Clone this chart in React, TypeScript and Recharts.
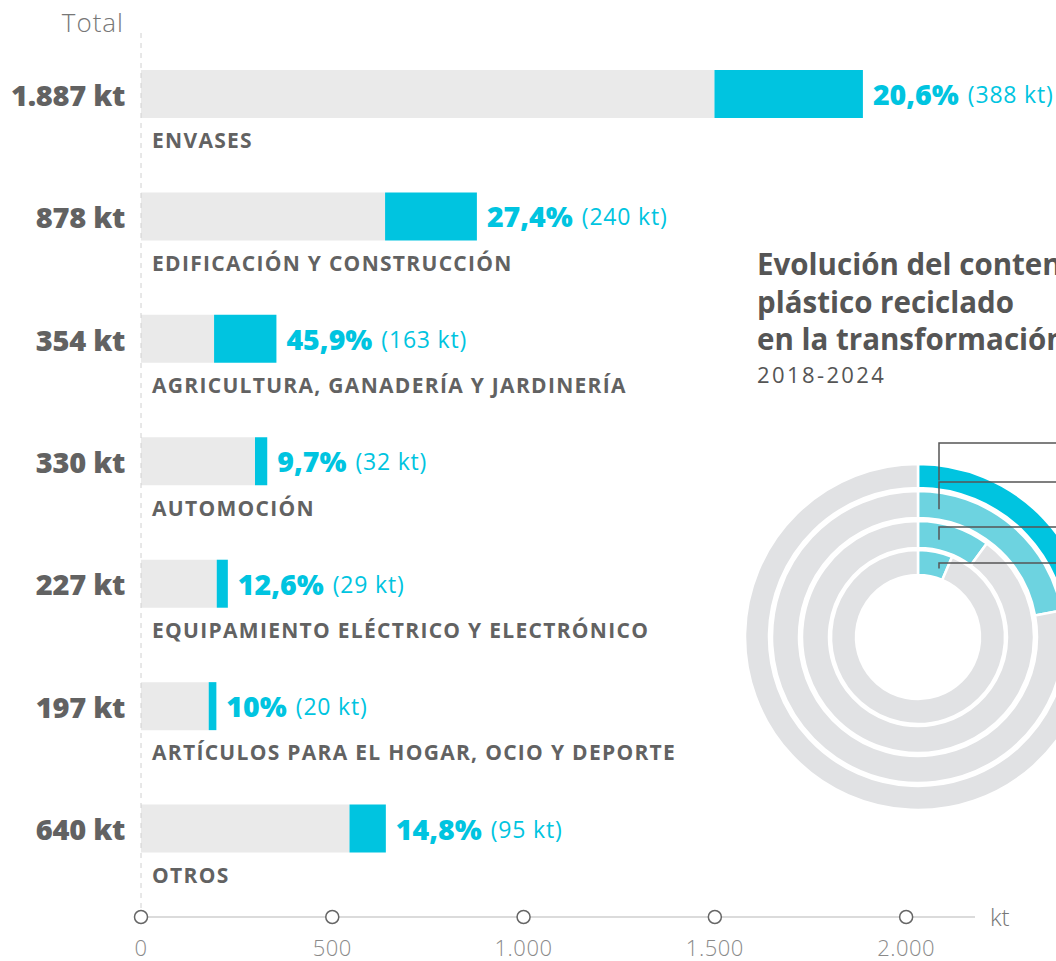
import { Bar, BarChart, Cell, LabelList, Pie, PieChart, XAxis, YAxis } from "recharts";

const categories = [
  "ENVASES",
  "EDIFICACIÓN Y CONSTRUCCIÓN",
  "AGRICULTURA, GANADERÍA Y JARDINERÍA",
  "AUTOMOCIÓN",
  "EQUIPAMIENTO ELÉCTRICO Y ELECTRÓNICO",
  "ARTÍCULOS PARA EL HOGAR, OCIO Y DEPORTE",
  "OTROS",
];
const totals = [1887, 878, 354, 330, 227, 197, 640];
const recycled = [388, 240, 163, 32, 29, 20, 95];
const totalLabels = ["1.887 kt", "878 kt", "354 kt", "330 kt", "227 kt", "197 kt", "640 kt"];
const shareLabels = ["20,6%", "27,4%", "45,9%", "9,7%", "12,6%", "10%", "14,8%"];
const recycledLabels = ["(388 kt)", "(240 kt)", "(163 kt)", "(32 kt)", "(29 kt)", "(20 kt)", "(95 kt)"];

const xTicks = [0, 500, 1000, 1500, 2000];
const xTickLabels = ["0", "500", "1.000", "1.500", "2.000"];

// evolution rings, outer to inner (% recycled content)
const ringShares = [26, 22.1, 10.1, 6.4];
const ringRadii = [
  [149, 173],
  [119, 146],
  [89, 116],
  [62, 87],
];
const ringColors = ["#00C4E0", "#6DD3E0", "#6DD3E0", "#6DD3E0"];
const leaderY = [443, 482, 527, 563];

const FONT = "'Open Sans', sans-serif";
const GREY_TEXT = "#626262";
const CYAN = "#00C4E0";

const rows = categories.map((name, i) => ({
  name,
  rest: totals[i] - recycled[i],
  recycled: recycled[i],
}));

function CategoryTick(props: any) {
  const { x, y, payload } = props;
  const i = payload.index ?? categories.indexOf(payload.value);
  return (
    <g>
      <text
        x={x - 16}
        y={y}
        textAnchor="end"
        dominantBaseline="central"
        fontFamily={FONT}
        fontWeight={800}
        fontSize={29}
        fill={GREY_TEXT}
        letterSpacing={-0.3}
      >
        {totalLabels[i]}
      </text>
      <text
        x={x + 11}
        y={y + 46}
        dominantBaseline="central"
        fontFamily={FONT}
        fontWeight={700}
        fontSize={21}
        fill={GREY_TEXT}
        letterSpacing={1.3}
      >
        {categories[i]}
      </text>
    </g>
  );
}

function AxisTick(props: any) {
  const { x, y, payload, index } = props;
  return (
    <g>
      <circle cx={x} cy={y} r={6.5} fill="#fff" stroke="#666" strokeWidth={1.5} />
      <text
        x={x}
        y={y + 30}
        textAnchor="middle"
        dominantBaseline="central"
        fontFamily={FONT}
        fontWeight={300}
        fontSize={22}
        fill="#8a8a8a"
        letterSpacing={0.5}
      >
        {xTickLabels[index ?? xTicks.indexOf(payload.value)]}
      </text>
    </g>
  );
}

function ShareLabel(props: any) {
  const { x, y, width, height, index } = props;
  return (
    <text
      x={x + width + 10}
      y={y + height / 2}
      dominantBaseline="central"
      fontFamily={FONT}
      fill={CYAN}
    >
      <tspan fontWeight={800} fontSize={28.5}>
        {shareLabels[index]}
      </tspan>
      <tspan fontWeight={400} fontSize={23} dx={9} letterSpacing={0.8}>
        {recycledLabels[index]}
      </tspan>
    </text>
  );
}

export default function App() {
  const cx = 918;
  const cy = 637;
  const leaderX = cx + 21;
  return (
    <div
      style={{
        position: "relative",
        width: 1056,
        height: 961,
        overflow: "hidden",
        background: "#fff",
        fontFamily: FONT,
      }}
    >
      <style>{`body{margin:0}`}</style>
      <div
        style={{
          position: "absolute",
          left: 0,
          width: 124,
          top: 4,
          textAlign: "right",
          fontSize: 26,
          fontWeight: 300,
          letterSpacing: 1,
          color: "#777",
        }}
      >
        Total
      </div>

      <div style={{ position: "absolute", left: 0, top: 0 }}>
        <BarChart
          width={1056}
          height={961}
          layout="vertical"
          data={rows}
          margin={{ top: 33, right: 81, bottom: 0, left: 0 }}
          barSize={48}
        >
          <XAxis
            type="number"
            domain={[0, 2180]}
            ticks={xTicks}
            height={44}
            axisLine={{ stroke: "#cfcfcf", strokeWidth: 1.5 }}
            tickLine={false}
            tickSize={0}
            tickMargin={0}
            tick={<AxisTick />}
            interval={0}
          />
          <YAxis
            type="category"
            dataKey="name"
            width={141}
            padding={{ top: 0, bottom: 27 }}
            axisLine={{ stroke: "#d0d0d0", strokeDasharray: "5 5" }}
            tickLine={false}
            tickSize={0}
            tickMargin={0}
            tick={<CategoryTick />}
            interval={0}
          />
          <Bar dataKey="rest" stackId="a" fill="#EAEAEA" isAnimationActive={false} />
          <Bar dataKey="recycled" stackId="a" fill={CYAN} isAnimationActive={false}>
            <LabelList dataKey="recycled" content={<ShareLabel />} />
          </Bar>
        </BarChart>
      </div>

      <div style={{ position: "absolute", left: 990, top: 900, fontSize: 24, fontWeight: 300, color: "#777" }}>
        kt
      </div>

      <div
        style={{
          position: "absolute",
          left: 757,
          top: 245,
          width: 500,
          color: "#555",
          whiteSpace: "nowrap",
        }}
      >
        <div style={{ fontSize: 29.5, fontWeight: 700, lineHeight: "37.5px" }}>Evolución del contenido de</div>
        <div style={{ fontSize: 29.5, fontWeight: 700, lineHeight: "37.5px" }}>plástico reciclado</div>
        <div style={{ fontSize: 29.5, fontWeight: 700, lineHeight: "37.5px" }}>en la transformación</div>
        <div style={{ fontSize: 22, fontWeight: 400, lineHeight: "32px", letterSpacing: 2.4, color: "#555" }}>
          2018-2024
        </div>
      </div>

      <div style={{ position: "absolute", left: cx - 200, top: cy - 200 }}>
        <PieChart width={400} height={400} margin={{ top: 0, right: 0, bottom: 0, left: 0 }}>
          {ringShares.map((share, r) => (
            <Pie
              key={r}
              data={[
                { name: "reciclado", value: share },
                { name: "virgen", value: 100 - share },
              ]}
              dataKey="value"
              cx={200}
              cy={200}
              innerRadius={ringRadii[r][0]}
              outerRadius={ringRadii[r][1]}
              startAngle={90}
              endAngle={-270}
              stroke="#fff"
              strokeWidth={2.5}
              isAnimationActive={false}
            >
              <Cell fill={ringColors[r]} />
              <Cell fill="#E1E2E4" />
            </Pie>
          ))}
        </PieChart>
      </div>

      <svg
        width={1056}
        height={961}
        style={{ position: "absolute", left: 0, top: 0, pointerEvents: "none" }}
      >
        {ringRadii.map(([inner, outer], r) => {
          const mid = (inner + outer) / 2;
          const endY = cy - Math.sqrt(mid * mid - 21 * 21) + 3;
          return (
            <polyline
              key={r}
              points={`1056,${leaderY[r]} ${leaderX},${leaderY[r]} ${leaderX},${endY}`}
              fill="none"
              stroke="#555"
              strokeWidth={1.5}
            />
          );
        })}
      </svg>
    </div>
  );
}
